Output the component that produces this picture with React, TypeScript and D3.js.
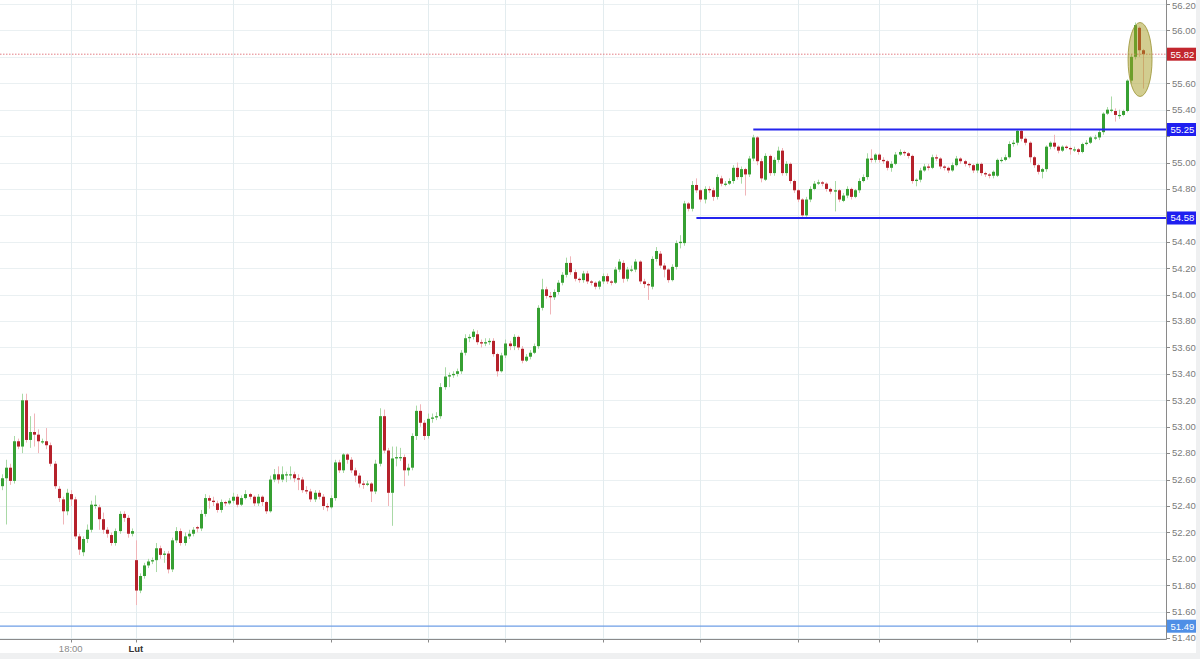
import * as d3 from 'd3'

// candle data (oldest first)
const opens = [
  52.55, 52.61, 52.69, 52.59, 52.89, 52.85, 53.2, 52.9, 52.96, 52.94,
  52.89, 52.89, 52.86, 52.72, 52.53, 52.45, 52.36, 52.49, 52.45, 52.17,
  52.05, 52.15, 52.22, 52.4, 52.39, 52.3, 52.22, 52.18, 52.12, 52.21,
  52.34, 52.31, 52.19, 51.99, 51.76, 51.87, 51.95, 51.98, 51.99, 52.08,
  52.03, 52.04, 51.92, 52.14, 52.21, 52.12, 52.17, 52.19, 52.24, 52.23,
  52.34, 52.46, 52.44, 52.42, 52.37, 52.43, 52.42, 52.44, 52.47, 52.41,
  52.46, 52.49, 52.47, 52.42, 52.47, 52.43, 52.36, 52.6, 52.64, 52.6,
  52.64, 52.64, 52.64, 52.61, 52.6, 52.52, 52.51, 52.45, 52.5, 52.47,
  52.4, 52.39, 52.46, 52.73, 52.67, 52.79, 52.75, 52.67, 52.63, 52.57,
  52.56, 52.57, 52.51, 52.72, 53.08, 52.82, 52.5, 52.76, 52.77, 52.77,
  52.67, 52.69, 52.93, 53.12, 53.03, 52.93, 53.06, 53.07, 53.08, 53.3,
  53.38, 53.39, 53.4, 53.42, 53.56, 53.67, 53.68, 53.7, 53.64, 53.63,
  53.64, 53.65, 53.55, 53.42, 53.54, 53.63, 53.61, 53.68, 53.59, 53.5,
  53.53, 53.56, 53.61, 53.9, 54.04, 53.99, 53.98, 54.02, 54.09, 54.15,
  54.24, 54.17, 54.12, 54.11, 54.16, 54.1, 54.09, 54.06, 54.1, 54.14,
  54.1, 54.09, 54.19, 54.24, 54.12, 54.19, 54.19, 54.25, 54.1, 54.08,
  54.06, 54.27, 54.31, 54.22, 54.19, 54.11, 54.21, 54.39, 54.39, 54.69,
  54.65, 54.83, 54.79, 54.72, 54.8, 54.79, 54.74, 54.88, 54.84, 54.84,
  54.86, 54.96, 54.89, 54.95, 54.91, 55.03, 55.19, 55.01, 54.87, 55.05,
  54.92, 55.02, 55.09, 54.92, 54.99, 54.86, 54.79, 54.72, 54.6, 54.72,
  54.8, 54.84, 54.85, 54.84, 54.8, 54.78, 54.79, 54.71, 54.75, 54.8,
  54.74, 54.79, 54.86, 54.89, 55.03, 55.02, 55.06, 55.02, 55.01, 54.96,
  54.99, 55.06, 55.08, 55.07, 55.05, 54.86, 54.87, 54.94, 54.97, 54.96,
  55.04, 55.03, 54.97, 54.96, 54.94, 54.98, 55.03, 55.01, 54.99, 54.98,
  54.94, 54.99, 54.92, 54.91, 54.9, 54.9, 55.02, 55.02, 55.04, 55.14,
  55.15, 55.24, 55.18, 55.15, 55.04, 54.98, 54.93, 54.95, 55.12, 55.15,
  55.12, 55.09, 55.12, 55.11, 55.1, 55.1, 55.08, 55.14, 55.15, 55.19,
  55.19, 55.23, 55.37, 55.4, 55.39, 55.36, 55.36, 55.39, 55.62, 55.8,
  56.02, 55.85,
]
const closes = [
  52.61, 52.69, 52.59, 52.89, 52.85, 53.2, 52.9, 52.96, 52.94, 52.89,
  52.89, 52.86, 52.72, 52.55, 52.46, 52.36, 52.5, 52.45, 52.17, 52.07,
  52.15, 52.22, 52.41, 52.41, 52.3, 52.22, 52.19, 52.12, 52.21, 52.34,
  52.31, 52.19, 52.21, 51.76, 51.87, 51.95, 51.98, 51.99, 52.08, 52.03,
  52.04, 51.92, 52.14, 52.21, 52.12, 52.17, 52.19, 52.22, 52.23, 52.34,
  52.46, 52.44, 52.43, 52.37, 52.43, 52.42, 52.44, 52.47, 52.41, 52.46,
  52.49, 52.47, 52.42, 52.47, 52.43, 52.36, 52.6, 52.64, 52.6, 52.64,
  52.64, 52.64, 52.61, 52.6, 52.52, 52.51, 52.45, 52.5, 52.47, 52.4,
  52.39, 52.46, 52.73, 52.67, 52.79, 52.75, 52.67, 52.63, 52.57, 52.56,
  52.57, 52.51, 52.72, 53.08, 52.82, 52.5, 52.76, 52.77, 52.77, 52.67,
  52.69, 52.93, 53.12, 53.03, 52.93, 53.06, 53.07, 53.08, 53.3, 53.38,
  53.39, 53.4, 53.42, 53.56, 53.67, 53.68, 53.72, 53.64, 53.63, 53.64,
  53.65, 53.55, 53.42, 53.54, 53.63, 53.61, 53.68, 53.6, 53.5, 53.53,
  53.56, 53.61, 53.9, 54.04, 53.99, 53.98, 54.02, 54.09, 54.15, 54.24,
  54.17, 54.12, 54.11, 54.16, 54.1, 54.09, 54.06, 54.1, 54.14, 54.1,
  54.09, 54.19, 54.25, 54.12, 54.19, 54.19, 54.25, 54.1, 54.08, 54.07,
  54.27, 54.33, 54.22, 54.19, 54.11, 54.21, 54.39, 54.4, 54.69, 54.65,
  54.83, 54.79, 54.72, 54.8, 54.79, 54.74, 54.89, 54.84, 54.84, 54.86,
  54.96, 54.89, 54.95, 54.91, 55.03, 55.19, 55.01, 54.88, 55.05, 54.92,
  55.02, 55.09, 54.92, 54.99, 54.86, 54.79, 54.72, 54.6, 54.72, 54.8,
  54.84, 54.85, 54.84, 54.8, 54.78, 54.79, 54.72, 54.75, 54.8, 54.74,
  54.79, 54.86, 54.89, 55.03, 55.02, 55.06, 55.02, 55.01, 54.96, 54.99,
  55.06, 55.08, 55.07, 55.05, 54.86, 54.87, 54.94, 54.97, 54.96, 55.04,
  55.03, 54.97, 54.96, 54.94, 54.98, 55.03, 55.01, 54.99, 54.98, 54.94,
  54.99, 54.92, 54.91, 54.9, 54.93, 55.02, 55.02, 55.04, 55.14, 55.15,
  55.24, 55.18, 55.15, 55.04, 54.98, 54.93, 54.95, 55.12, 55.15, 55.12,
  55.09, 55.12, 55.11, 55.1, 55.1, 55.08, 55.14, 55.15, 55.19, 55.19,
  55.23, 55.37, 55.4, 55.4, 55.36, 55.36, 55.39, 55.62, 55.8, 56.04,
  55.85, 55.82,
]
const highs = [
  52.64, 52.75, 52.72, 52.93, 52.91, 53.25, 53.25, 53.08, 53.1, 52.98,
  52.91, 52.99, 52.88, 52.74, 52.55, 52.47, 52.53, 52.52, 52.47, 52.19,
  52.17, 52.26, 52.44, 52.48, 52.41, 52.35, 52.24, 52.2, 52.23, 52.36,
  52.36, 52.33, 52.23, 52.14, 51.89, 51.97, 52.0, 52.01, 52.12, 52.1,
  52.06, 52.06, 52.16, 52.24, 52.23, 52.2, 52.22, 52.24, 52.25, 52.37,
  52.49, 52.48, 52.47, 52.44, 52.45, 52.44, 52.46, 52.5, 52.49, 52.48,
  52.52, 52.5, 52.48, 52.49, 52.48, 52.44, 52.63, 52.68, 52.7, 52.7,
  52.66, 52.7, 52.66, 52.64, 52.62, 52.55, 52.53, 52.52, 52.52, 52.49,
  52.42, 52.48, 52.75, 52.75, 52.8, 52.8, 52.77, 52.69, 52.65, 52.59,
  52.59, 52.58, 52.75, 53.14, 53.13, 52.84, 52.85, 52.85, 52.84, 52.79,
  52.72, 52.95, 53.16, 53.17, 53.05, 53.1, 53.1, 53.11, 53.33, 53.45,
  53.41, 53.42, 53.44, 53.58, 53.7, 53.7, 53.74, 53.73, 53.66, 53.67,
  53.67, 53.67, 53.56, 53.56, 53.66, 53.65, 53.7, 53.69, 53.61, 53.55,
  53.58, 53.63, 53.92, 54.12, 54.06, 54.02, 54.04, 54.11, 54.17, 54.28,
  54.29, 54.19, 54.13, 54.18, 54.18, 54.11, 54.1, 54.11, 54.16, 54.16,
  54.11, 54.21, 54.27, 54.26, 54.21, 54.22, 54.27, 54.26, 54.12, 54.09,
  54.29, 54.36, 54.33, 54.24, 54.2, 54.23, 54.41, 54.45, 54.71, 54.7,
  54.86, 54.88, 54.8, 54.82, 54.82, 54.81, 54.91, 54.9, 54.86, 54.88,
  54.98, 55.0, 54.97, 54.96, 55.05, 55.21, 55.2, 55.03, 55.07, 55.06,
  55.04, 55.12, 55.11, 55.01, 55.0, 54.87, 54.8, 54.73, 54.74, 54.82,
  54.86, 54.87, 54.86, 54.85, 54.81, 54.86, 54.8, 54.77, 54.82, 54.81,
  54.8, 54.88, 54.91, 55.07, 55.1, 55.07, 55.07, 55.04, 55.02, 55.01,
  55.08, 55.1, 55.09, 55.08, 55.06, 54.88, 54.96, 54.99, 54.99, 55.06,
  55.06, 55.04, 54.98, 54.97, 55.0, 55.05, 55.04, 55.02, 55.0, 54.99,
  55.0, 55.0, 54.93, 54.92, 54.94, 55.03, 55.04, 55.06, 55.16, 55.17,
  55.25, 55.25, 55.19, 55.16, 55.05, 54.99, 54.96, 55.13, 55.16, 55.21,
  55.13, 55.13, 55.13, 55.12, 55.12, 55.11, 55.15, 55.17, 55.2, 55.21,
  55.25, 55.38, 55.42, 55.5, 55.41, 55.4, 55.4, 55.63, 55.82, 56.06,
  56.03, 55.86,
]
const lows = [
  52.52, 52.26, 52.56, 52.57, 52.83, 52.8, 52.88, 52.84, 52.85, 52.8,
  52.87, 52.83, 52.7, 52.53, 52.43, 52.26, 52.33, 52.4, 52.15, 52.03,
  52.02, 52.12, 52.2, 52.38, 52.22, 52.19, 52.16, 52.1, 52.1, 52.19,
  52.28, 52.16, 52.17, 51.65, 51.74, 51.85, 51.93, 51.96, 51.9, 52.0,
  51.97, 51.89, 51.9, 52.12, 52.1, 52.1, 52.15, 52.17, 52.2, 52.21,
  52.32, 52.38, 52.4, 52.35, 52.35, 52.4, 52.41, 52.42, 52.39, 52.4,
  52.45, 52.45, 52.4, 52.4, 52.4, 52.34, 52.35, 52.58, 52.57, 52.58,
  52.58, 52.6, 52.58, 52.52, 52.5, 52.49, 52.43, 52.43, 52.45, 52.37,
  52.36, 52.38, 52.44, 52.65, 52.65, 52.72, 52.65, 52.58, 52.54, 52.53,
  52.55, 52.43, 52.49, 52.7, 52.8, 52.4, 52.25, 52.7, 52.74, 52.55,
  52.63, 52.67, 52.9, 53.0, 52.9, 52.91, 53.03, 53.05, 53.06, 53.28,
  53.3, 53.37, 53.38, 53.4, 53.54, 53.64, 53.66, 53.62, 53.6, 53.61,
  53.62, 53.53, 53.38, 53.41, 53.52, 53.58, 53.58, 53.58, 53.48, 53.49,
  53.51, 53.55, 53.59, 53.88, 53.97, 53.85, 53.96, 54.0, 54.07, 54.13,
  54.15, 54.1, 54.09, 54.09, 54.08, 54.07, 54.04, 54.04, 54.08, 54.08,
  54.07, 54.08, 54.17, 54.09, 54.1, 54.17, 54.17, 54.08, 54.05, 53.96,
  54.04, 54.25, 54.2, 54.13, 54.09, 54.1, 54.19, 54.35, 54.37, 54.63,
  54.63, 54.77, 54.7, 54.69, 54.77, 54.71, 54.72, 54.82, 54.82, 54.83,
  54.84, 54.87, 54.84, 54.75, 54.89, 55.01, 54.98, 54.85, 54.86, 54.9,
  54.9, 55.0, 54.9, 54.9, 54.84, 54.77, 54.7, 54.59, 54.59, 54.7,
  54.79, 54.83, 54.82, 54.78, 54.76, 54.63, 54.7, 54.7, 54.73, 54.72,
  54.73, 54.77, 54.85, 54.87, 55.0, 55.0, 55.0, 54.99, 54.94, 54.93,
  54.98, 55.05, 55.05, 55.03, 54.84, 54.82, 54.85, 54.93, 54.94, 54.95,
  55.01, 54.95, 54.94, 54.92, 54.93, 54.97, 54.99, 54.97, 54.96, 54.92,
  54.92, 54.9, 54.89, 54.88, 54.88, 54.89, 55.0, 55.01, 55.03, 55.12,
  55.13, 55.16, 55.13, 55.0, 54.96, 54.91, 54.88, 54.93, 55.1, 55.1,
  55.07, 55.08, 55.1, 55.06, 55.08, 55.06, 55.07, 55.13, 55.14, 55.17,
  55.17, 55.21, 55.36, 55.38, 55.31, 55.33, 55.35, 55.38, 55.6, 55.78,
  55.8, 55.56,
]

// time axis: candle index where each vertical grid line sits
const timeTickIdx = [17, 33, 57, 81, 105, 124, 148, 172, 196, 216, 240, 263]
const timeTickLabels = ['18:00', 'Lut', '', '', '', '', '', '', '', '', '', '']

// drawn horizontal levels (value, candle index where the line starts)
const levelValues = [55.25, 54.58]
const levelStart = [185, 171]
const lastPrice = 55.82
const lowMark = 51.49

const W = 1200, H = 659
const PANEL_W = 1196, PANEL_H = 653
const AX_X = 1166, AX_Y = 639.5

const green = '#36a032', red = '#b5212b'
const greenWick = '#a9d9a6', redWick = '#f0b4b8'
const font = '"Liberation Sans", Arial, sans-serif'

export default function App() {
  const n = closes.length
  const x = d3.scaleLinear().domain([0, n - 1]).range([1.7, 1143.3])
  const y = d3.scaleLinear().domain([51.4, 56.2]).range([638.1, 4])
  const yTicks = d3.range(51.4, 56.21, 0.2)
  const bodyW = 3

  // badges sit on top of the axis; axis labels they cover are dropped
  const badgeVals = [lastPrice, ...levelValues]
  const shownTicks = yTicks.filter((t) => badgeVals.every((b) => Math.abs(y(t) - y(b)) > 7))

  const badge = (v: number, fill: string, key: string) => (
    <g key={key} transform={`translate(${AX_X + 1},${y(v)})`}>
      <rect x={0} y={-6.5} width={29} height={13} fill={fill} />
      <text x={3.5} y={3.3} fontSize={9.5} fill="#fff" fontFamily={font}>{v.toFixed(2)}</text>
    </g>
  )

  const ryEll = (y(55.5) - y(56.06)) / 2

  return (
    <svg width={W} height={H} style={{ position: 'absolute', left: 0, top: 0, display: 'block' }}>
      <defs>
        <clipPath id="plot"><rect x={0} y={0} width={AX_X} height={AX_Y} /></clipPath>
        <clipPath id="axisLab"><rect x={AX_X} y={0} width={40} height={AX_Y + 1.5} /></clipPath>
      </defs>
      <rect width={W} height={H} fill="#eff0f1" />
      <rect width={PANEL_W} height={PANEL_H} fill="#fff" />

      {/* grid */}
      <g clipPath="url(#plot)">
        {yTicks.map((t) => (
          <line key={'h' + t} x1={0} x2={AX_X} y1={Math.round(y(t)) + 0.5} y2={Math.round(y(t)) + 0.5} stroke="#eaf0f2" />
        ))}
        {timeTickIdx.map((i) => (
          <line key={'v' + i} x1={Math.round(x(i)) + 0.5} x2={Math.round(x(i)) + 0.5} y1={0} y2={AX_Y} stroke="#e3ecef" />
        ))}

        {/* candles */}
        {closes.map((c, i) => {
          const o = opens[i]
          const up = c >= o
          const cx = Math.round(x(i))
          const top = y(Math.max(o, c)), bot = y(Math.min(o, c))
          return (
            <g key={i}>
              <line x1={cx + 0.5} x2={cx + 0.5} y1={y(highs[i])} y2={y(lows[i])} stroke={up ? greenWick : redWick} />
              <rect x={cx - 1} y={top} width={bodyW} height={Math.max(1.2, bot - top)} fill={up ? green : red} />
            </g>
          )
        })}

        {/* last price dotted line */}
        <line x1={0} x2={AX_X} y1={y(lastPrice)} y2={y(lastPrice)} stroke="#e27d84" strokeWidth={1} strokeDasharray="1.5 1.5" />
        {/* support / resistance */}
        {levelValues.map((v, k) => (
          <line key={'lv' + k} x1={x(levelStart[k])} x2={AX_X} y1={y(v)} y2={y(v)} stroke="#2424ee" strokeWidth={2} />
        ))}
        <line x1={0} x2={AX_X} y1={y(lowMark)} y2={y(lowMark)} stroke="#6e9ee6" strokeWidth={1.3} />

        {/* highlight ellipse on the last candles */}
        <ellipse cx={x(280.2)} cy={y(55.78)} rx={12} ry={ryEll} fill="#a59c22" fillOpacity={0.5} stroke="#9a9232" strokeOpacity={0.8} strokeWidth={1} />
      </g>

      {/* axes */}
      <line x1={AX_X + 0.5} x2={AX_X + 0.5} y1={0} y2={AX_Y} stroke="#8a8a8a" />
      <line x1={0} x2={AX_X + 0.5} y1={AX_Y} y2={AX_Y} stroke="#8a8a8a" />
      <g clipPath="url(#axisLab)">
        {yTicks.map((t) => (
          <line key={'yt' + t} x1={AX_X} x2={AX_X + 4} y1={Math.round(y(t)) + 0.5} y2={Math.round(y(t)) + 0.5} stroke="#8a8a8a" />
        ))}
        {shownTicks.map((t) => (
          <text key={'yl' + t} x={AX_X + 6} y={Math.max(y(t) + 3.3, 9)} fontSize={9.5} fill="#7a7a7a" fontFamily={font}>{t.toFixed(2)}</text>
        ))}
      </g>
      {timeTickIdx.map((i, k) => (
        <g key={'xt' + i}>
          <line x1={Math.round(x(i)) + 0.5} x2={Math.round(x(i)) + 0.5} y1={AX_Y} y2={AX_Y + 3} stroke="#8a8a8a" />
          {timeTickLabels[k] && (
            <text x={x(i)} y={AX_Y + 12} textAnchor="middle" fontSize={9.5} fontFamily={font}
              fill={k === 1 ? '#333' : '#8a8a8a'} fontWeight={k === 1 ? 'bold' : 'normal'}>{timeTickLabels[k]}</text>
          )}
        </g>
      ))}

      {/* price badges */}
      {badge(lastPrice, '#c2262e', 'lp')}
      {levelValues.map((v, k) => badge(v, '#1f1ff0', 'b' + k))}
      {badge(lowMark, '#4f8fe6', 'lm')}
    </svg>
  )
}
